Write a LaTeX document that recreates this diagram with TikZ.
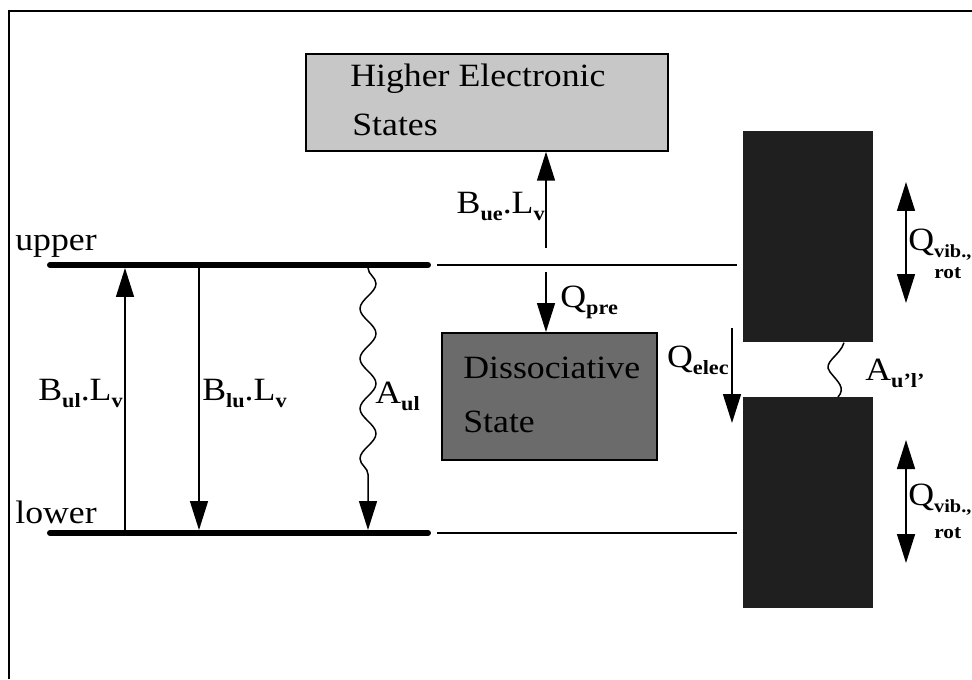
\documentclass[tikz,border=0pt]{standalone}
\usepackage{fontspec}
\setmainfont{Liberation Serif}[FakeStretch=1.1]
\usepackage{tikz}
\usetikzlibrary{positioning, calc, arrows.meta, decorations.pathmorphing}

\newcommand{\tiefst}[2][11.5]{\raisebox{-4pt}{\fontsize{#1}{13}\selectfont\bfseries #2}}

\tikzset{
  niveau/.style={line width=3.4pt, line cap=round},
  duenn/.style={line width=0.8pt},
  pfeil/.style={line width=0.85pt, -{Triangle[length=0.58cm, width=0.36cm]}},
  doppelpfeil/.style={line width=0.85pt, {Triangle[length=0.58cm, width=0.36cm]}-{Triangle[length=0.58cm, width=0.36cm]}},
  welle/.style={line width=0.85pt, decorate,
    decoration={snake, amplitude=0.16cm, segment length=1cm, post length=0.62cm}},
  lbl/.style={inner sep=0pt, anchor=base west, font=\fontsize{18.5}{21}\selectfont},
  zustand/.style={draw, line width=1pt, inner sep=0pt, anchor=north west},
  block/.style={fill=black!88, inner sep=0pt, anchor=north west,
    minimum width=2.6cm, minimum height=4.22cm}
}

\begin{document}
\begin{tikzpicture}[x=0.02cm, y=-0.02cm]
  \useasboundingbox (0,0) rectangle (972,679);

  % Rahmen
  \draw[line width=1.2pt] (9,679) -- (9,11) -- (972,11);

  % Zwei Niveaus
  \coordinate (uL) at (50,265);
  \coordinate (uR) at (428,265);
  \coordinate (lL) at (50,533);
  \coordinate (lR) at (428,533);
  \draw[niveau] (uL) -- (uR);
  \draw[niveau] (lL) -- (lR);
  \node[lbl] (tUpper) at (15,250) {upper};
  \node[lbl] (tLower) at (15,523) {lower};

  % Zustaende
  \node[zustand, fill=black!22, minimum width=7.24cm, minimum height=1.94cm] (hoeher) at (305,53) {};
  \node[lbl] (tHoeher1) at (350,87) {Higher Electronic};
  \node[lbl] (tHoeher2) at (352,135) {States};
  \node[zustand, fill=black!58, minimum width=4.3cm, minimum height=2.54cm] (diss) at (441,332) {};
  \node[lbl] (tDiss1) at (463,378) {Dissociative};
  \node[lbl] (tDiss2) at (463,432) {State};

  % Bloecke rechts
  \node[block] (oben) at (743,131) {};
  \node[block] (unten) at (743,397) {};

  % duenne Verlaengerungen
  \draw[duenn] (437,0 |- uR) -- (737,0 |- uR);
  \draw[duenn] (437,0 |- lR) -- (737,0 |- lR);

  % Uebergaenge links
  \draw[pfeil] (125,530) -- (125,268);
  \node[lbl, anchor=base east] (tBul) at (123,400) {B\tiefst{ul}.L\tiefst{v}};
  \draw[pfeil] (199,268) -- (199,530);
  \node[lbl] (tBlu) at (202,400) {B\tiefst{lu}.L\tiefst{v}};
  \draw[welle, -{Triangle[length=0.58cm, width=0.36cm]}] (368,268) -- (368,530);
  \node[lbl] (tAul) at (375,403) {A\tiefst{ul}};

  % Uebergaenge Mitte
  \draw[pfeil] (546,248) -- (hoeher.south -| 546,0);
  \node[lbl, anchor=base east] (tBue) at (545,213) {B\tiefst{ue}.L\tiefst{v}};
  \draw[pfeil] (546,272) -- (diss.north -| 546,0);
  \node[lbl] (tQpre) at (560,307) {Q\tiefst{pre}};

  % Uebergaenge rechts
  \draw[pfeil] (732,328) -- (732,423);
  \node[lbl, anchor=base east] (tQelec) at (729,367) {Q\tiefst{elec}};
  \coordinate (aOben) at (844,0 |- oben.south);
  \coordinate (aUnten) at (838,0 |- unten.north);
  \draw[line width=0.85pt] (aOben) .. controls (840,356) and (822,362) .. (830,372)
    .. controls (838,382) and (846,388) .. (aUnten);
  \node[lbl] (tAul2) at (865,380) {A\tiefst{u'l'}};
  \draw[doppelpfeil] (906,182) -- (906,303);
  \node[lbl] (tQvib1) at (908,250) {Q\tiefst[10.5]{vib.,}};
  \node[lbl, font=\fontsize{11}{13}\selectfont\bfseries] (tRot1) at (934,278) {rot};
  \draw[doppelpfeil] (906,440) -- (906,563);
  \node[lbl] (tQvib2) at (908,505) {Q\tiefst[10.5]{vib.,}};
  \node[lbl, font=\fontsize{11}{13}\selectfont\bfseries] (tRot2) at (934,538) {rot};
\end{tikzpicture}
\end{document}
